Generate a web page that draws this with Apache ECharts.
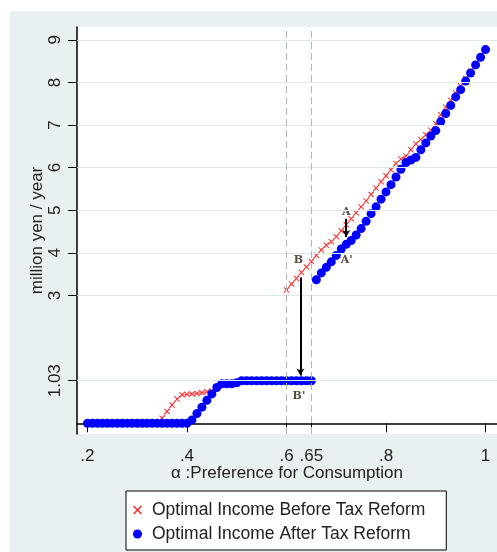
<!DOCTYPE html>
<html><head><meta charset="utf-8">
<script src="https://cdn.jsdelivr.net/npm/echarts@6/dist/echarts.min.js"></script>
<style>html,body{margin:0;padding:0;background:#fff}#c{width:497px;height:552px}</style>
</head><body><div id="c"></div>
<script>
// alpha: preference for consumption
const alpha = [
 0.20,0.21,0.22,0.23,0.24,0.25,0.26,0.27,0.28,0.29,
 0.30,0.31,0.32,0.33,0.34,0.35,0.36,0.37,0.38,0.39,
 0.40,0.41,0.42,0.43,0.44,0.45,0.46,0.47,0.48,0.49,
 0.50,0.51,0.52,0.53,0.54,0.55,0.56,0.57,0.58,0.59,
 0.60,0.61,0.62,0.63,0.64,0.65,0.66,0.67,0.68,0.69,
 0.70,0.71,0.72,0.73,0.74,0.75,0.76,0.77,0.78,0.79,
 0.80,0.81,0.82,0.83,0.84,0.85,0.86,0.87,0.88,0.89,
 0.90,0.91,0.92,0.93,0.94,0.95,0.96,0.97,0.98,0.99,
 1.00];
// values in the (broken) axis units of the figure
const redBefore = [
 0,0,0,0,0,0,0,0,0,0,
 0,0,0,0,0,0.12,0.28,0.43,0.57,0.67,
 0.68,0.69,0.70,0.72,0.74,0.76,0.84,0.93,0.93,0.93,
 0.95,1,1,1,1,1,1,1,1,1,
 3.13,3.27,3.40,3.54,3.67,3.80,3.94,4.07,4.18,4.26,
 4.38,4.52,4.66,4.80,4.94,5.08,5.22,5.37,5.52,5.67,
 5.81,5.95,6.10,6.20,6.27,6.42,6.56,6.66,6.77,6.88,
 7.03,7.24,7.42,7.58,7.75,7.92,8.09,8.26,8.44,8.61,
 8.77];
const blueAfter = [
 0,0,0,0,0,0,0,0,0,0,
 0,0,0,0,0,0,0,0,0,0,
 0,0.08,0.23,0.38,0.54,0.69,0.84,0.93,0.93,0.93,
 0.95,1,1,1,1,1,1,1,1,1,
 1,1,1,1,1,1,3.37,3.53,3.66,3.79,
 3.94,4.09,4.20,4.29,4.42,4.57,4.74,4.92,5.08,5.26,
 5.43,5.60,5.78,5.96,6.12,6.18,6.24,6.42,6.58,6.74,
 6.87,7.08,7.27,7.46,7.66,7.83,8.03,8.22,8.41,8.59,
 8.77];
const seriesNames = ['Optimal Income Before Tax Reform','Optimal Income After Tax Reform'];
const xTickValues = [0.2,0.4,0.6,0.65,0.8,1];
const xTickLabels = ['.2','.4','.6','.65','.8','1'];
const yTickValues = [1,3,4,5,6,7,8,9];
const yTickLabels = ['1.03','3','4','5','6','7','8','9'];
const refLines = [0.6,0.65];
const redJumpAt = 0.6;
const arrows = [[[0.628,3.42],[0.628,1.12]],[[0.72,4.80],[0.72,4.37]]];
const pointLabels = [['B',0.624,3.82],["B'",0.625,0.65],['A',0.72,4.96],["A'",0.721,3.82]];

const font = 'Arial, "Liberation Sans", sans-serif';
const crossPath = 'path://M0,1.2L1.2,0L5,3.8L8.8,0L10,1.2L6.2,5L10,8.8L8.8,10L5,6.2L1.2,10L0,8.8L3.8,5Z';
function lab(vals, labels){ return v => { const i = vals.findIndex(t => Math.abs(t - v) < 1e-6); return i < 0 ? '' : labels[i]; }; }

const redLow = [], redHigh = [], blue = [];
alpha.forEach((a,i) => {
  (a < redJumpAt - 1e-6 ? redLow : redHigh).push([a, redBefore[i]]);
  blue.push([a, blueAfter[i]]);
});

const redStyle = {
  type:'line', name:seriesNames[0], symbol:crossPath, symbolSize:6, showAllSymbol:true,
  lineStyle:{color:'#ff3030', width:0.8}, itemStyle:{color:'#ff3030', opacity:1}, z:2, silent:true
};

const chart = echarts.init(document.getElementById('c'), null, {renderer:'canvas'});
chart.setOption({
  animation:false,
  backgroundColor:'#e9f0f1',
  graphic:[
    {type:'rect', shape:{x:0,y:0,width:497,height:11}, style:{fill:'#fff'}, z:100},
    {type:'rect', shape:{x:0,y:0,width:10,height:552}, style:{fill:'#fff'}, z:100}
  ],
  grid:{left:77, top:27, right:0, bottom:118, show:true, backgroundColor:'#fff', borderWidth:0, outerBoundsMode:'none'},
  legend:{
    orient:'vertical', left:126, top:491, padding:[10,21,7,7], itemGap:6, itemWidth:9, itemHeight:9,
    backgroundColor:'#fff', borderColor:'#000', borderWidth:1, borderRadius:0, selectedMode:false,
    textStyle:{fontSize:17.5, color:'#222', fontFamily:font, padding:[0,0,0,5]},
    data:[{name:seriesNames[0], icon:crossPath},{name:seriesNames[1], icon:'circle'}]
  },
  xAxis:{
    type:'value', min:0.179, max:1.023,
    name:'α :Preference for Consumption', nameLocation:'middle', nameGap:31, nameMoveOverlap:false,
    nameTextStyle:{fontSize:17, color:'#222', fontFamily:font},
    axisLine:{show:true, lineStyle:{color:'#000', width:1.5}},
    axisTick:{show:true, customValues:xTickValues, length:9, lineStyle:{color:'#000', width:1}},
    axisLabel:{customValues:xTickValues, formatter:lab(xTickValues,xTickLabels), fontSize:17, color:'#222', fontFamily:font, margin:14},
    splitLine:{show:false}
  },
  yAxis:{
    type:'value', min:-0.25, max:9.3,
    name:'million yen / year', nameLocation:'middle', nameGap:31, nameMoveOverlap:false,
    nameTextStyle:{fontSize:17, color:'#222', fontFamily:font},
    axisLine:{show:true, lineStyle:{color:'#000', width:1.5}},
    axisTick:{show:true, customValues:yTickValues, length:9, lineStyle:{color:'#000', width:1}},
    axisLabel:{customValues:yTickValues, formatter:lab(yTickValues,yTickLabels), rotate:90, fontSize:17, color:'#222', fontFamily:font, margin:13},
    splitLine:{show:false}
  },
  series:[
    {type:'scatter', name:'grid', data:[], z:1, silent:true,
     markLine:{silent:true, symbol:'none', label:{show:false}, animation:false,
       lineStyle:{color:'#dde8eb', width:1, type:'solid'},
       data:yTickValues.map(v => ({yAxis:v}))}},
    Object.assign({}, redStyle, {data:redLow}),
    Object.assign({}, redStyle, {data:redHigh}),
    {type:'scatter', name:seriesNames[1], data:blue, symbol:'circle', symbolSize:9,
     itemStyle:{color:'#0000ff', opacity:1}, z:3, silent:true},
    {type:'scatter', name:'annot', data:pointLabels.map(p => ({name:p[0], value:[p[1],p[2]]})),
     symbolSize:0, z:4, silent:true,
     label:{show:true, position:'inside', formatter:p => p.name, fontFamily:'"DejaVu Serif", "Liberation Serif", serif', fontWeight:'bold', fontSize:11, color:'#2a2010'},
     markLine:{silent:true, animation:false, label:{show:false}, symbol:'none',
       data:[
         ...refLines.map(v => ({xAxis:v, lineStyle:{color:'#b5b5b5', width:1, type:[7,4]}})),
         ...arrows.map(a => [{coord:a[0], symbol:'none'},{coord:a[1], symbol:'arrow', symbolSize:[6,7], lineStyle:{color:'#000', width:2, type:'solid'}}])
       ]}}
  ]
});
</script></body></html>
